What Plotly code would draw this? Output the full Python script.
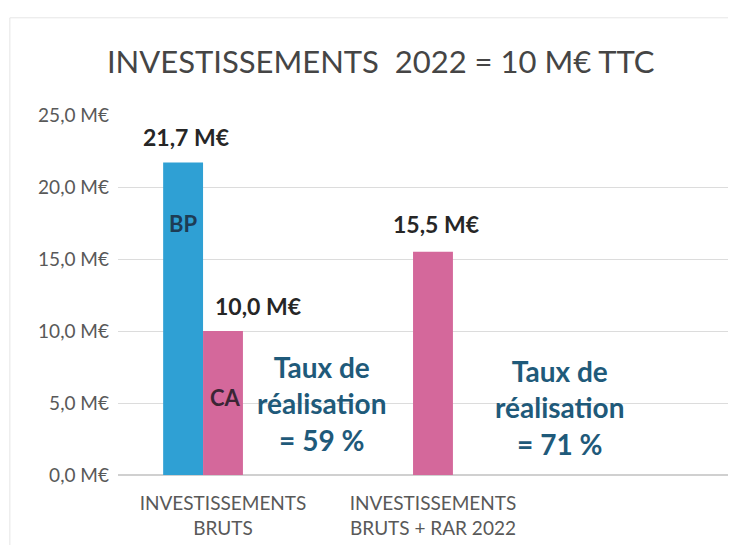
import plotly.graph_objects as go

categories = ["INVESTISSEMENTS<br>BRUTS", "INVESTISSEMENTS<br>BRUTS + RAR 2022"]
bp_values = [21.7, None]
ca_values = [10.0, 15.5]
spacer_values = [None, None]
taux_labels = ["<b>Taux de<br>réalisation<br>= 59 %</b>", "<b>Taux de<br>réalisation<br>= 71 %</b>"]
y_ticks = [0, 5, 10, 15, 20, 25]

BLUE = "#2fa0d4"
PINK = "#d4689b"
FONT = "Lato"

def fmt(v):
    return f"{v:.1f}".replace(".", ",") + " M€"

x_idx = [0, 1]

fig = go.Figure()
fig.add_trace(go.Bar(x=x_idx, y=bp_values, name="BP", marker=dict(color=BLUE, line=dict(width=0))))
fig.add_trace(go.Bar(x=x_idx, y=ca_values, name="CA", marker=dict(color=PINK, line=dict(width=0))))
fig.add_trace(go.Bar(x=x_idx, y=spacer_values, name="", marker=dict(color="rgba(0,0,0,0)"), showlegend=False))

VAL_FONT = dict(family=FONT, size=23, color="#262626")
annotations = []
annotations.append(dict(x=0, y=bp_values[0], text="<b>" + fmt(bp_values[0]) + "</b>", xshift=-37, yshift=26,
                        showarrow=False, font=VAL_FONT))
annotations.append(dict(x=0, y=ca_values[0], text="<b>" + fmt(ca_values[0]) + "</b>", xshift=35, yshift=25,
                        showarrow=False, font=VAL_FONT))
annotations.append(dict(x=1, y=ca_values[1], text="<b>" + fmt(ca_values[1]) + "</b>", xshift=3, yshift=28,
                        showarrow=False, font=VAL_FONT))
annotations.append(dict(x=0, y=17.5, text="<b>BP</b>", xshift=-40, showarrow=False,
                        font=dict(family=FONT, size=22, color="#1d3c55")))
annotations.append(dict(x=0, y=5.4, text="<b>CA</b>", xshift=3, showarrow=False,
                        font=dict(family=FONT, size=22, color="#3b2535")))
annotations.append(dict(x=0, y=5.0, text=taux_labels[0], xshift=99, showarrow=False,
                        font=dict(family=FONT, size=28, color="#1f5a7a")))
annotations.append(dict(x=1, y=4.7, text=taux_labels[1], xshift=127, showarrow=False,
                        font=dict(family=FONT, size=28, color="#1f5a7a")))

fig.update_layout(
    width=728, height=537,
    margin=dict(l=110, r=0, t=107, b=70),
    paper_bgcolor="white", plot_bgcolor="white",
    barmode="group", bargap=0.43, bargroupgap=0,
    showlegend=False,
    title=dict(text="INVESTISSEMENTS  2022 = 10 M€ TTC", x=0.512, xanchor="center", y=0.899, yanchor="middle",
               font=dict(family=FONT, size=31, color="#454545")),
    xaxis=dict(tickmode="array", tickvals=x_idx, ticktext=categories, range=[-0.5, 2.443],
               showgrid=False, zeroline=False, showline=False, ticks="",
               tickfont=dict(family=FONT, size=19, color="#595959"), ticklabelstandoff=15),
    yaxis=dict(range=[0, 25], tickmode="array", tickvals=y_ticks, ticktext=[fmt(v) for v in y_ticks],
               showgrid=True, gridcolor="#dcdcdc", gridwidth=1, zeroline=True, zerolinecolor="#d0d0d0",
               showline=False, ticks="", tickfont=dict(family=FONT, size=19, color="#595959"),
               ticklabelstandoff=8),
    annotations=annotations,
    shapes=[
        dict(type="line", xref="paper", yref="paper", x0=-0.175, x1=-0.175, y0=-0.2, y1=1.27,
             line=dict(color="#e6e6e6", width=1)),
        dict(type="line", xref="paper", yref="paper", x0=-0.175, x1=1.0, y0=1.27, y1=1.27,
             line=dict(color="#e6e6e6", width=1)),
    ],
)

fig.write_html("out.html")
